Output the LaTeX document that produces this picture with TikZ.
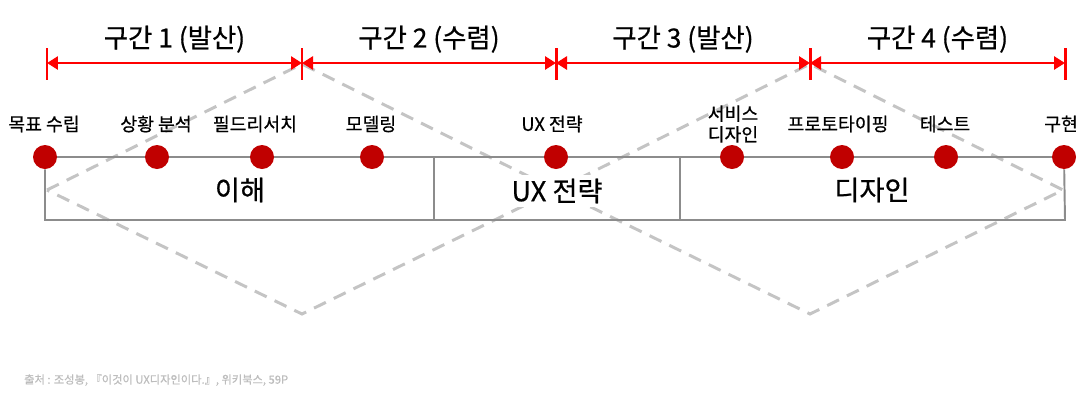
\documentclass[tikz,border=0pt]{standalone}
\usepackage{fontspec}
\setmainfont{Noto Sans CJK KR}[FakeBold=0.6]
\usetikzlibrary{positioning,arrows.meta}
\definecolor{Dot}{HTML}{C00000}
\definecolor{Frame}{HTML}{8C8C8C}
\definecolor{Dash}{HTML}{C4C4C4}
\definecolor{Note}{HTML}{BDBDBD}

\begin{document}
\begin{tikzpicture}[
      x=0.02cm, y=-0.02cm,
      dot/.style={circle, fill=Dot, inner sep=0pt, minimum size=0.48cm},
      lab/.style={font=\fontsize{10.4}{11.8}\selectfont, align=center},
      part/.style={font=\fontsize{15.5}{17}\selectfont, fill=white, inner sep=2pt},
      head/.style={font=\fontsize{15}{16.5}\selectfont},
      tick/.style={draw=red, line width=1.7pt},
      dim/.style={{Triangle[length=0.22cm, width=0.26cm]}-{Triangle[length=0.22cm, width=0.26cm]}, draw=red, line width=1.7pt},
      frame/.style={draw=Frame, line width=1.1pt},
      cone/.style={draw=Dash, line width=1.7pt, dash pattern=on 7.5pt off 5pt}
    ]
    \useasboundingbox (0,0) rectangle (1085,400);

    % double diamond
    \coordinate (w) at (47,190);
    \coordinate (n1) at (302,64);
    \coordinate (s1) at (302,314);
    \coordinate (c) at (556,190);
    \coordinate (n2) at (810,64);
    \coordinate (s2) at (810,314);
    \coordinate (e) at (1063,190);
    \draw[cone] (w) -- (n1) -- (c) -- (n2) -- (e) -- (s2) -- (c) -- (s1) -- cycle;

    % phases
    \foreach \x [count=\i from 0] in {47,302,556,810,1065} {
      \coordinate (t\i) at (\x,63);
      \draw[tick] (\x,48) -- (\x,80);
    }
    \draw[dim] (t0) -- node[head, above=0.06cm] {구간 1 (발산)} (t1);
    \draw[dim] (t1) -- node[head, above=0.06cm] {구간 2 (수렴)} (t2);
    \draw[dim] (t2) -- node[head, above=0.06cm] {구간 3 (발산)} (t3);
    \draw[dim] (t3) -- node[head, above=0.06cm] {구간 4 (수렴)} (t4);

    % steps
    \foreach \x/\lx/\t [count=\i] in {45/44/목표 수립, 157/156/상황 분석, 262/255/필드리서치,
        372/371/모델링, 556/552/UX 전략, 732/733/{서비스\\디자인}, 842/838/프로토타이핑,
        946/945/테스트, 1064/1061/구현} {
      \node[dot] (d\i) at (\x,157) {};
      \node[lab] (l\i) at (\lx,124) {\t};
    }

    % frame
    \coordinate (bl) at (45,220);
    \coordinate (br) at (1065,220);
    \coordinate (m1) at (434,157);
    \coordinate (m2) at (680,157);
    \draw[frame] (d1) -- (d2) -- (d3) -- (d4) -- (d5) -- (d6) -- (d7) -- (d8) -- (d9);
    \draw[frame] (d1) -- (bl) -- (br) -- (d9);
    \draw[frame] (m1) -- (m1 |- bl);
    \draw[frame] (m2) -- (m2 |- bl);

    \node[part] (p1) at (240,190) {이해};
    \node[part] (p2) at (557,191) {UX 전략};
    \node[part] (p3) at (872,190) {디자인};

    \node[anchor=west, text=Note, font=\fontsize{6.4}{8}\selectfont] (src) at (18,380)
      {출처 : 조성봉, 『이것이 UX디자인이다.』, 위키북스, 59P};
  \end{tikzpicture}
\end{document}
